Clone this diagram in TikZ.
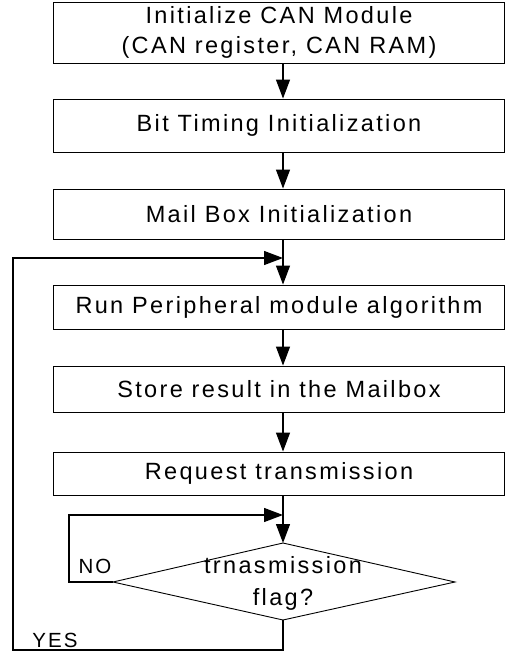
\documentclass[tikz,border=0pt]{standalone}
\usepackage{fontspec}
\setmainfont[LetterSpace=10]{Liberation Sans}
\usetikzlibrary{arrows.meta}
\tikzset{
  stepbox/.style={draw, line width=0.9pt, inner sep=0pt, align=center,
    minimum width=451, font=\fontsize{23.5}{29.5}\selectfont},
  label text/.style={inner sep=0pt, align=center, font=\fontsize{23.5}{32}\selectfont},
  flow/.style={line width=1.3pt, -{Triangle[length=19pt,width=14pt]}},
  tag/.style={font=\fontsize{20.5}{24}\selectfont, inner sep=0pt}
}
\begin{document}
\begin{tikzpicture}[x=1pt, y=-1pt]
  \useasboundingbox (0,0) rectangle (514,655);

  % process steps
  \node[stepbox, minimum height=61] (b1) at (279,32.5) {Initialize CAN Module\\(CAN register, CAN RAM)};
  \node[stepbox, minimum height=53] (b2) at (279,125.5) {Bit Timing Initialization};
  \node[stepbox, minimum height=50] (b3) at (279,214) {Mail Box Initialization};
  \node[stepbox, minimum height=44] (b4) at (279,307) {Run Peripheral module algorithm};
  \node[stepbox, minimum height=46] (b5) at (279,389) {Store result in the Mailbox};
  \node[stepbox, minimum height=43] (b6) at (279,473.5) {Request transmission};

  % decision diamond
  \coordinate (dn) at (283,543);
  \coordinate (de) at (455,582);
  \coordinate (ds) at (283,620);
  \coordinate (dw) at (113,582);
  \draw[line width=0.9pt] (dn) -- (de) -- (ds) -- (dw) -- cycle;
  \node[label text] (dm) at (283,583) {trnasmission\\flag?};

  % main flow line and loop points
  \coordinate (sp) at (283,0);
  \coordinate (j1) at (283,258);
  \coordinate (j2) at (283,515);
  \coordinate (yb) at (13,650);
  \coordinate (nl) at (69,582);

  \draw[flow] (b1.south -| sp) -- (b2.north -| sp);
  \draw[flow] (b2.south -| sp) -- (b3.north -| sp);
  \draw[flow] (b3.south -| sp) -- (b4.north -| sp);
  \draw[flow] (b4.south -| sp) -- (b5.north -| sp);
  \draw[flow] (b5.south -| sp) -- (b6.north -| sp);
  \draw[flow] (b6.south -| sp) -- (dn);

  % YES: back to the algorithm
  \draw[flow] (ds) |- (yb) |- (j1);
  % NO: wait on the flag
  \draw[flow] (dw) -- (nl) |- (j2);

  \node[tag] (no) at (95,566) {NO};
  \node[tag] (yes) at (55,640) {YES};
\end{tikzpicture}
\end{document}
